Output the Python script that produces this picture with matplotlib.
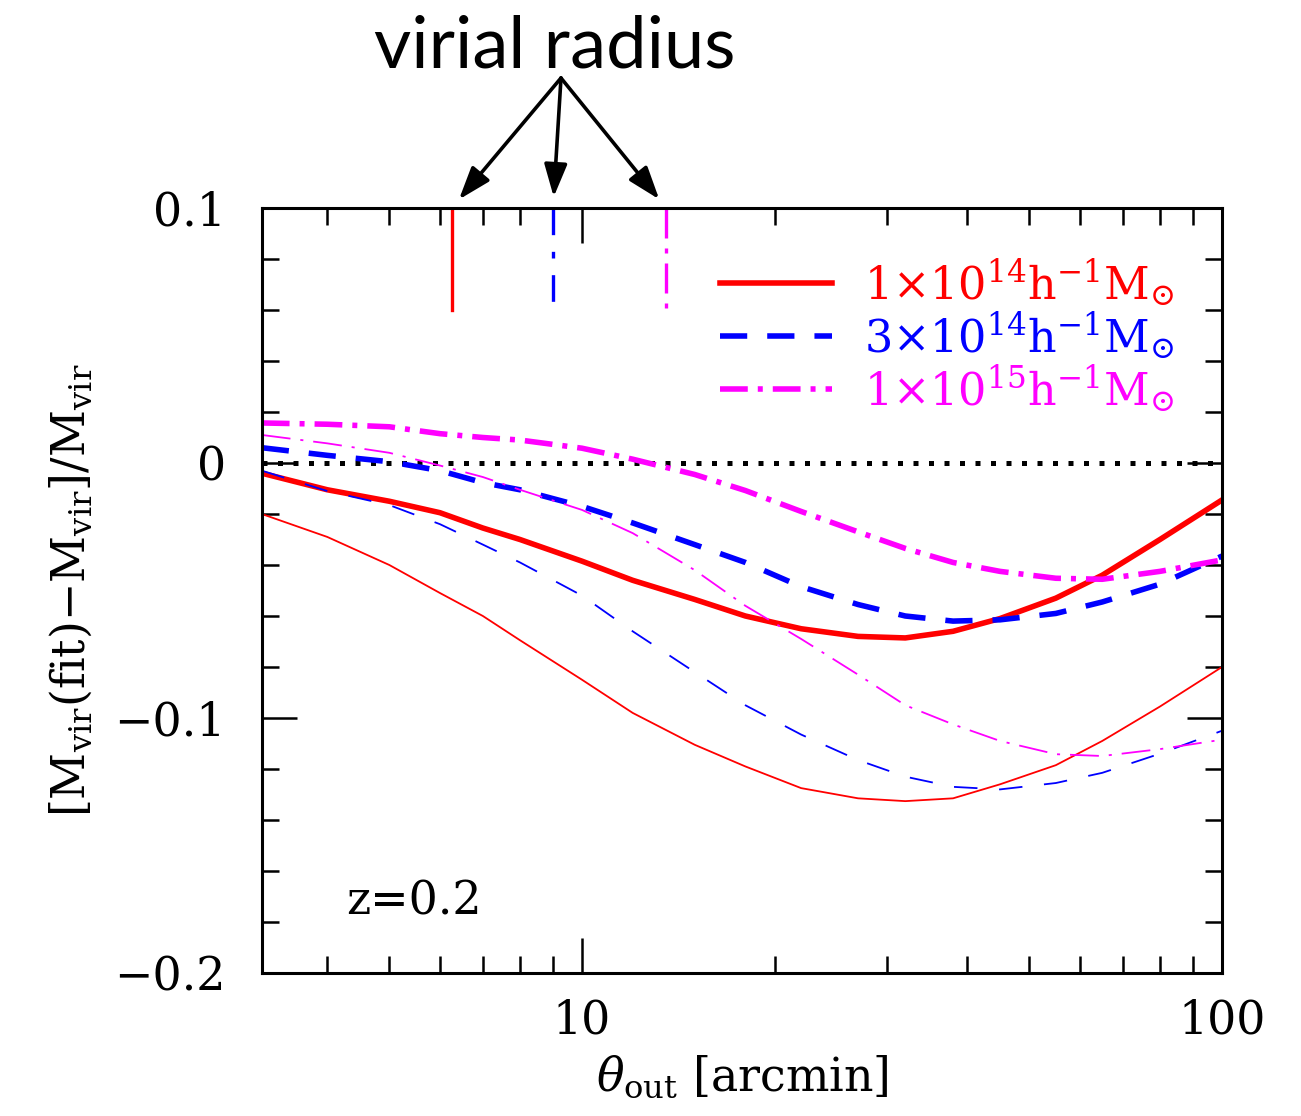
import numpy as np
import matplotlib
matplotlib.use("Agg")
import matplotlib.pyplot as plt
from matplotlib.ticker import FixedLocator, MultipleLocator, NullFormatter, FuncFormatter

plt.rcParams['font.family'] = 'DejaVu Serif'
plt.rcParams['mathtext.fontset'] = 'dejavuserif'

# theta_out grid [arcmin]
theta = [3.16, 4, 5, 6, 7, 8, 10, 12, 15, 18, 22, 27, 32, 38, 45, 55, 65, 80, 100]

# thick curves
thick_1e14 = [-0.004, -0.0105, -0.015, -0.0195, -0.0255, -0.030, -0.0385, -0.046, -0.0535, -0.060,
              -0.065, -0.068, -0.0686, -0.066, -0.061, -0.053, -0.044, -0.030, -0.0145]
thick_3e14 = [0.006, 0.003, 0.0005, -0.003, -0.0077, -0.0105, -0.017, -0.0235, -0.032, -0.039,
              -0.0485, -0.0555, -0.060, -0.062, -0.0615, -0.059, -0.0545, -0.0475, -0.0365]
thick_1e15 = [0.0157, 0.0152, 0.0142, 0.0115, 0.010, 0.009, 0.0058, 0.0015, -0.0045, -0.0108,
              -0.019, -0.027, -0.0335, -0.039, -0.0425, -0.0452, -0.0456, -0.0425, -0.038]

# thin curves
thin_1e14 = [-0.020, -0.029, -0.040, -0.051, -0.060, -0.0695, -0.085, -0.098, -0.1105, -0.119,
             -0.1275, -0.1315, -0.1326, -0.1315, -0.126, -0.1185, -0.109, -0.0955, -0.080]
thin_3e14 = [-0.003, -0.011, -0.0165, -0.024, -0.032, -0.039, -0.052, -0.066, -0.082, -0.095,
             -0.1065, -0.1165, -0.123, -0.127, -0.128, -0.1255, -0.1215, -0.114, -0.105]
thin_1e15 = [0.011, 0.0077, 0.004, -0.001, -0.0055, -0.0105, -0.0184, -0.0275, -0.042, -0.056,
             -0.069, -0.083, -0.095, -0.1025, -0.109, -0.1142, -0.1149, -0.1122, -0.1085]

theta_vir = [6.26, 9.01, 13.54]
vir_span = [0.1, 0.06]

labels = [r'$\mathrm{1{\times}10^{14}h^{-1}M_{\odot}}$',
          r'$\mathrm{3{\times}10^{14}h^{-1}M_{\odot}}$',
          r'$\mathrm{1{\times}10^{15}h^{-1}M_{\odot}}$']
colors = ['#ff0000', '#0000ff', '#ff00ff']
thick_styles = ['-', (0, (4.9, 3.6)), (0, (5, 1.8, 0.9, 1.8))]
thin_styles = ['-', (0, (13, 12)), (0, (16, 5.5, 1.7, 5.5))]
vir_styles = ['-', (0, (8, 5, 2, 5)), (0, (9, 3, 1.5, 3))]

thick = [thick_1e14, thick_3e14, thick_1e15]
thin = [thin_1e14, thin_3e14, thin_1e15]

fig = plt.figure(figsize=(13.01, 11.16), dpi=100)
ax = fig.add_axes([262/1301, 1-973/1116, 960/1301, 765/1116])

ax.axhline(0, color='k', ls=(0, (1, 2.1)), lw=3.6, dash_capstyle='butt')

for i in range(3):
    ax.plot(theta, thin[i], color=colors[i], ls=thin_styles[i], lw=1.3)
    ax.plot(theta, thick[i], color=colors[i], ls=thick_styles[i], lw=4)
    ax.plot([theta_vir[i]] * 2, vir_span, color=colors[i], ls=vir_styles[i], lw=2.4)

# legend drawn by hand
for i in range(3):
    yl = 0.902 - 0.0695 * i
    ax.plot([0.477, 0.594], [yl, yl], transform=ax.transAxes, color=colors[i],
            ls=thick_styles[i], lw=4)
    ax.text(0.627, yl, labels[i], transform=ax.transAxes, color=colors[i],
            fontsize=32, va='center', ha='left')

ax.text(0.088, 0.076, 'z=0.2', transform=ax.transAxes, fontsize=33, va='baseline')

ax.set_xscale('log')
ax.set_xlim(10**0.5, 100)
ax.set_ylim(-0.2, 0.1)
ax.xaxis.set_major_locator(FixedLocator([10, 100]))
ax.xaxis.set_minor_locator(FixedLocator([4, 5, 6, 7, 8, 9, 20, 30, 40, 50, 60, 70, 80, 90]))
ax.xaxis.set_major_formatter(FuncFormatter(lambda v, p: '%d' % v))
ax.xaxis.set_minor_formatter(NullFormatter())
ax.yaxis.set_major_locator(FixedLocator([-0.2, -0.1, 0, 0.1]))
ax.yaxis.set_minor_locator(MultipleLocator(0.02))
ax.yaxis.set_major_formatter(FuncFormatter(
    lambda v, p: '0' if abs(v) < 1e-9 else ('%.1f' % v).replace('-', '\u2212')))

ax.tick_params(which='both', direction='in', top=True, right=True, width=1.8)
ax.tick_params(which='major', length=25, labelsize=33)
ax.tick_params(which='minor', length=12)
ax.tick_params(axis='y', pad=26)
ax.tick_params(axis='x', pad=18)
for s in ax.spines.values():
    s.set_linewidth(2.2)

ax.set_xlabel(r'$\theta_{\mathrm{out}}\ \mathrm{[arcmin]}$', fontsize=33, labelpad=8)
ax.set_ylabel(r'$\mathrm{[M_{vir}(fit){-}M_{vir}]/M_{vir}}$', fontsize=33, labelpad=14)

# annotation
fig.text(555/1301, 1-68/1116, 'virial radius', ha='center', va='baseline',
         fontsize=52, family='Lato')
for tv in theta_vir:
    ax.annotate('', xy=(tv, 0.1), xycoords='data',
                xytext=(561/1301, 1-78/1116), textcoords='figure fraction',
                arrowprops=dict(arrowstyle='-|>,head_length=1.0,head_width=0.35',
                                lw=2.6, color='k', shrinkA=0, shrinkB=8,
                                mutation_scale=20),
                annotation_clip=False)

fig.savefig('out.png', dpi=100)
